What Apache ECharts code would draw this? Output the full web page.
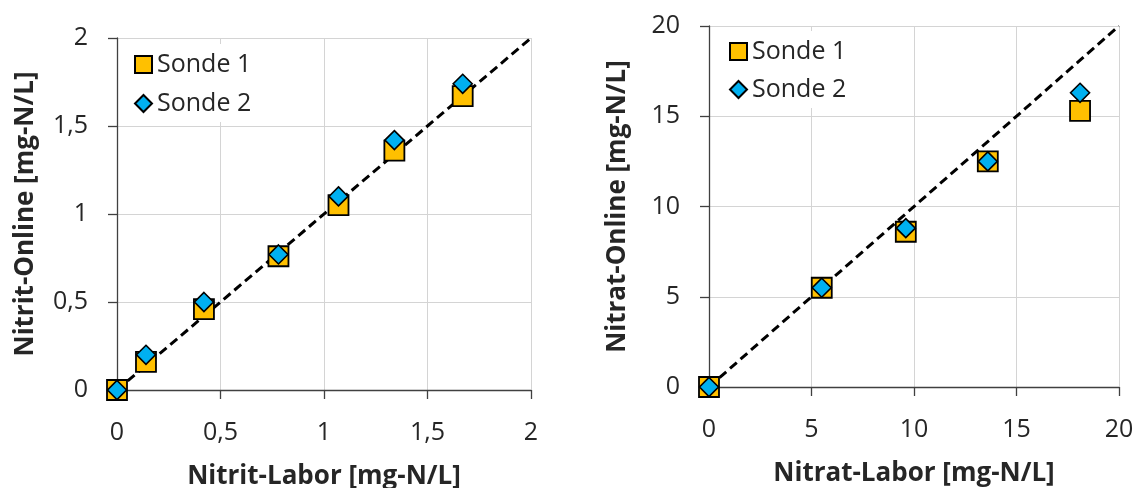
<!DOCTYPE html>
<html>
<head>
<meta charset="utf-8">
<script src="https://cdn.jsdelivr.net/npm/echarts@6/dist/echarts.min.js"></script>
<style>
  html, body { margin: 0; padding: 0; background: #fff; }
  #chart { width: 1141px; height: 488px; }
</style>
</head>
<body>
<div id="chart"></div>
<script>
// Nitrit: laboratory reference vs. online probes [mg-N/L]
const nitritLabor  = [0, 0.14, 0.42, 0.78, 1.07, 1.34, 1.67];
const nitritSonde1 = [0, 0.16, 0.46, 0.76, 1.05, 1.36, 1.67];
const nitritSonde2 = [0, 0.20, 0.50, 0.77, 1.10, 1.42, 1.74];

// Nitrat: laboratory reference vs. online probes [mg-N/L]
const nitratLabor  = [0, 5.5, 9.6, 13.6, 18.1];
const nitratSonde1 = [0, 5.5, 8.6, 12.5, 15.3];
const nitratSonde2 = [0, 5.5, 8.8, 12.5, 16.3];

// 1:1 line end points
const nitritIdeal = [0, 2];
const nitratIdeal = [0, 20];

// tick labels
const nitritTicks = [0, 0.5, 1, 1.5, 2];
const nitratTicks = [0, 5, 10, 15, 20];

const seriesNames = ['Sonde 1', 'Sonde 2'];

const FONT = '"Open Sans", "Liberation Sans", sans-serif';
const TEXT = '#262626';
const SQUARE = '#FFC000';
const DIAMOND = '#00B0F0';

const pairs = (xs, ys) => xs.map((x, i) => [x, ys[i]]);
const fmt = v => String(v).replace('.', ',');

function axis(gridIndex, ticks, name, isY) {
  const step = ticks[1] - ticks[0];
  return {
    type: 'value',
    gridIndex,
    min: ticks[0],
    max: ticks[ticks.length - 1],
    interval: step,
    name,
    nameLocation: 'middle',
    nameGap: isY ? 78 : 74,
    nameTextStyle: { fontFamily: FONT, fontSize: 26, fontWeight: 'bold', color: TEXT },
    axisLine: { show: true, onZero: false, lineStyle: { color: '#404040', width: 1.3 } },
    axisTick: { show: true, inside: false, length: 9, lineStyle: { color: '#404040', width: 1.3 } },
    axisLabel: {
      fontFamily: FONT, fontSize: 25, color: TEXT,
      margin: isY ? 29 : 30,
      formatter: fmt
    },
    splitLine: { show: true, showMinLine: false, showMaxLine: true, lineStyle: { color: '#d4d4d4', width: 1 } }
  };
}

function scatter(name, idx, data, isSquare, z) {
  return {
    name,
    type: 'scatter',
    xAxisIndex: idx,
    yAxisIndex: idx,
    data,
    symbol: isSquare ? 'rect' : 'diamond',
    symbolSize: isSquare ? 20 : [19, 19],
    itemStyle: {
      color: isSquare ? SQUARE : DIAMOND,
      borderColor: '#000',
      borderWidth: isSquare ? 1.8 : 1.6,
      opacity: 1
    },
    z,
    emphasis: { disabled: true },
    silent: true
  };
}

function idealLine(idx, ends) {
  return {
    name: '1:1',
    type: 'line',
    xAxisIndex: idx,
    yAxisIndex: idx,
    data: [[ends[0], ends[0]], [ends[1], ends[1]]],
    symbol: 'none',
    lineStyle: { color: '#000', width: 3, type: [9, 5] },
    z: 1,
    silent: true
  };
}

function legend(left, top, gap) {
  return {
    orient: 'vertical',
    left, top,
    data: seriesNames,
    itemWidth: 17,
    itemHeight: 17,
    itemGap: gap,
    padding: [8, 10, 6, 8],
    backgroundColor: '#fff',
    textStyle: { fontFamily: FONT, fontSize: 25, color: TEXT, lineHeight: 25 },
    selectedMode: false
  };
}

const chart = echarts.init(document.getElementById('chart'), null, { renderer: 'canvas' });

chart.setOption({
  animation: false,
  backgroundColor: '#fff',
  grid: [
    { left: 117, top: 38, width: 414, height: 352, containLabel: false, outerBoundsMode: 'none' },
    { left: 709, top: 26, width: 410, height: 361, containLabel: false, outerBoundsMode: 'none' }
  ],
  xAxis: [
    axis(0, nitritTicks, 'Nitrit-Labor [mg-N/L]', false),
    axis(1, nitratTicks, 'Nitrat-Labor [mg-N/L]', false)
  ],
  yAxis: [
    axis(0, nitritTicks, 'Nitrit-Online [mg-N/L]', true),
    axis(1, nitratTicks, 'Nitrat-Online [mg-N/L]', true)
  ],
  legend: [
    Object.assign(legend(126, 44, 14), { id: 'l0' }),
    Object.assign(legend(721, 31, 13), { id: 'l1' })
  ],
  series: [
    idealLine(0, nitritIdeal),
    scatter(seriesNames[0], 0, pairs(nitritLabor, nitritSonde1), true, 3),
    scatter(seriesNames[1], 0, pairs(nitritLabor, nitritSonde2), false, 4),
    idealLine(1, nitratIdeal),
    scatter(seriesNames[0], 1, pairs(nitratLabor, nitratSonde1), true, 3),
    scatter(seriesNames[1], 1, pairs(nitratLabor, nitratSonde2), false, 4)
  ]
});
</script>
</body>
</html>
